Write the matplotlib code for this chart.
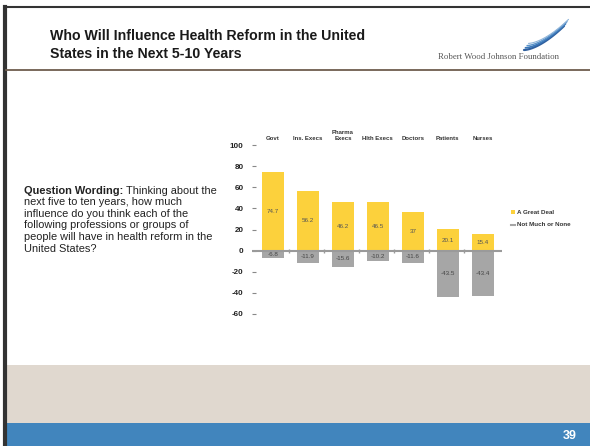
import matplotlib.pyplot as plt
import matplotlib.patches as mpatches
import numpy as np

plt.rcParams['font.family'] = ['Liberation Sans', 'DejaVu Sans']

# chart data
groups = ['Govt', 'Ins. Execs', 'Pharma\nExecs', 'Hlth Execs', 'Doctors', 'Patients', 'Nurses']
great_deal = [74.7, 56.2, 46.2, 46.5, 37.0, 20.1, 15.4]
not_much = [-6.8, -11.9, -15.6, -10.2, -11.6, -43.5, -43.4]
series_names = ['A Great Deal', 'Not Much or None']
yticks = [100, 80, 60, 40, 20, 0, -20, -40, -60]

W, H = 590, 446
fig = plt.figure(figsize=(W / 100, H / 100), dpi=100)
fig.patch.set_facecolor('white')

# background layer in pixel coordinates
bg = fig.add_axes([0, 0, 1, 1])
bg.set_xlim(0, W)
bg.set_ylim(H, 0)
bg.axis('off')

# slide frame
bg.plot([5, W], [7, 7], color='#333333', lw=1.5)
bg.plot([5, 5], [7, H], color='#333333', lw=3)
bg.plot([6, W], [70, 70], color='#6e5d4e', lw=1.3)
bg.add_patch(mpatches.Rectangle((6, 365), W - 6, 58, color='#e0d8cf', lw=0))
bg.add_patch(mpatches.Rectangle((6, 423), W - 6, 23, color='#4185bd', lw=0))
bg.text(577, 436, '39', color='white', fontsize=9, fontweight='bold', ha='right', va='center')

# title
bg.text(50, 45, 'Who Will Influence Health Reform in the United\nStates in the Next 5-10 Years',
        fontsize=10.2, fontweight='bold', color='#1a1a1a', va='center', ha='left', linespacing=1.4)

# logo
t = np.linspace(0, 1, 30)
for k, (c, lw) in enumerate([('#2f5f9e', 1.6), ('#3a77b8', 1.3), ('#5b93c9', 1.0), ('#8fb4d9', 0.8)]):
    xs = 524 + 40 * t + k * 1.5
    ys = 50 - 24 * t ** 1.6 - k * 2.2
    bg.plot(xs, ys, color=c, lw=lw, solid_capstyle='round')
bg.text(499, 57, 'Robert Wood Johnson Foundation', family='Liberation Serif',
        fontsize=6.3, color='#555555', ha='center', va='center')

# question wording
renderer = fig.canvas.get_renderer()
fs = 7.9
q = bg.text(24, 190.5, 'Question Wording:', fontsize=fs, fontweight='bold', color='#222222', va='center')
bb = q.get_window_extent(renderer=renderer)
bg.text(24 + bb.width + 3, 190.5, 'Thinking about the', fontsize=fs, color='#222222', va='center')
rest = ['next five to ten years, how much',
        'influence do you think each of the',
        'following professions or groups of',
        'people will have in health reform in the',
        'United States?']
for i, line in enumerate(rest):
    bg.text(24, 190.5 + 11.6 * (i + 1), line, fontsize=fs, color='#222222', va='center')

# chart
ax = fig.add_axes([252 / W, (H - 314) / H, 250 / W, (314 - 145) / H])
ax.set_xlim(-0.6, 6.55)
ax.set_ylim(-60, 100)
x = np.arange(len(groups))
ax.bar(x, great_deal, width=0.63, color='#fcd13c')
ax.bar(x, not_much, width=0.63, color='#a6a6a6')
ax.axhline(0, color='#9a9a9a', lw=1.5)
ax.plot(x[:-1] + 0.45, np.zeros(len(x) - 1), marker='|', ms=2.5, ls='none', color='#9a9a9a')

for xi, v in zip(x, great_deal):
    ax.text(xi, v / 2, f'{v:g}', ha='center', va='center', fontsize=4.5, color='#555555')
for xi, v in zip(x, not_much):
    ax.text(xi, v / 2, f'{v:g}', ha='center', va='center', fontsize=4.5, color='#444444')
for xi, g in zip(x, groups):
    ax.text(xi, 1.025, g, transform=ax.get_xaxis_transform(), ha='center', va='bottom',
            fontsize=4.3, fontweight='bold', color='#333333', linespacing=1.1)

ax.set_yticks(yticks)
ax.set_yticklabels([str(v) for v in yticks], fontsize=5.8, fontweight='bold', color='#222222')
ax.tick_params(axis='y', direction='in', length=3, pad=6, color='#888888')
ax.set_xticks([])
for s in ax.spines.values():
    s.set_visible(False)
ax.patch.set_alpha(0)

# legend
bg.add_patch(mpatches.Rectangle((511, 210), 3.5, 4, color='#fcd13c', lw=0))
bg.text(517, 212, series_names[0], fontsize=4.5, fontweight='bold', color='#333333', va='center')
bg.plot([511, 514.5], [225, 225], color='#a6a6a6', lw=1.5)
bg.text(517, 225, series_names[1], fontsize=4.5, fontweight='bold', color='#333333', va='center')

fig.savefig('out.png', dpi=100)
